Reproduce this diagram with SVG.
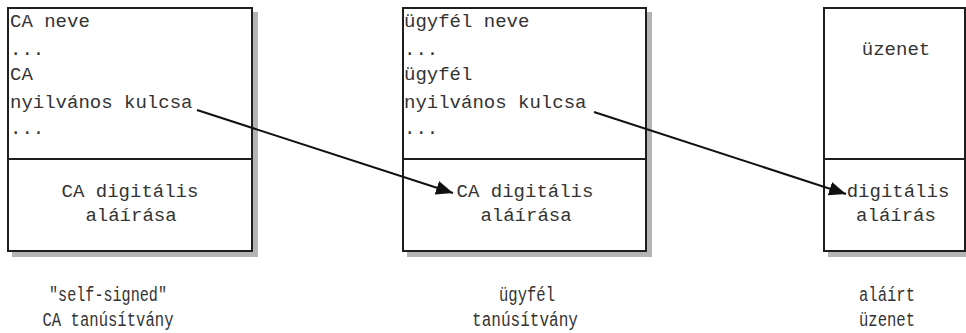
<svg xmlns="http://www.w3.org/2000/svg" width="966" height="333" viewBox="0 0 966 333">
  <style>
    .shadow { fill: #b4b4b4; stroke: none; }
    .box { fill: #ffffff; stroke: #1e1e1e; stroke-width: 2; }
    .div { stroke: #1e1e1e; stroke-width: 2; }
    .t { font-family: "Liberation Mono", "Courier New", monospace; font-size: 19px; fill: #333333; }
    .c { text-anchor: middle; }
    .cap { font-family: "Liberation Mono", "Courier New", monospace; font-size: 20px; fill: #333333; text-anchor: middle; }
    .arrow { stroke: #111111; stroke-width: 2; fill: none; marker-end: url(#head); }
  </style>
  <defs>
    <marker id="head" markerUnits="userSpaceOnUse" markerWidth="18" markerHeight="14" refX="17" refY="7" orient="auto">
      <path d="M0,0 L17,7 L0,14 Z" fill="#111111"/>
    </marker>
  </defs>

  <rect width="966" height="333" fill="#ffffff"/>

  <!-- self-signed CA certificate -->
  <g id="ca-cert">
    <rect class="shadow" x="12" y="12" width="246" height="245"/>
    <rect class="box" x="8" y="8" width="244" height="243"/>
    <line class="div" x1="8" y1="159" x2="252" y2="159"/>
    <text class="t" x="10" y="27">CA neve</text>
    <text class="t" x="10" y="55">...</text>
    <text class="t" x="10" y="80">CA</text>
    <text class="t" x="10" y="108">nyilvános kulcsa</text>
    <text class="t" x="10" y="134">...</text>
    <text class="t c" x="130" y="197">CA digitális</text>
    <text class="t c" x="131" y="221">aláírása</text>
    <text class="cap" x="108" y="301" textLength="118" lengthAdjust="spacingAndGlyphs">"self-signed"</text>
    <text class="cap" x="108" y="326" textLength="131" lengthAdjust="spacingAndGlyphs">CA tanúsítvány</text>
  </g>

  <!-- client certificate -->
  <g id="client-cert">
    <rect class="shadow" x="407" y="12" width="245" height="245"/>
    <rect class="box" x="403" y="8" width="243" height="243"/>
    <line class="div" x1="403" y1="159" x2="646" y2="159"/>
    <text class="t" x="404" y="27">ügyfél neve</text>
    <text class="t" x="404" y="55">...</text>
    <text class="t" x="404" y="80">ügyfél</text>
    <text class="t" x="404" y="108">nyilvános kulcsa</text>
    <text class="t" x="404" y="134">...</text>
    <text class="t c" x="525" y="197">CA digitális</text>
    <text class="t c" x="526" y="221">aláírása</text>
    <text class="cap" x="527" y="301" textLength="56" lengthAdjust="spacingAndGlyphs">ügyfél</text>
    <text class="cap" x="525" y="326" textLength="106" lengthAdjust="spacingAndGlyphs">tanúsítvány</text>
  </g>

  <!-- signed message -->
  <g id="signed-message">
    <rect class="shadow" x="828" y="12" width="144" height="245"/>
    <rect class="box" x="824" y="8" width="141" height="243"/>
    <line class="div" x1="824" y1="159" x2="965" y2="159"/>
    <text class="t c" x="896" y="55">üzenet</text>
    <text class="t c" x="898" y="197">digitális</text>
    <text class="t c" x="896" y="221">aláírás</text>
    <text class="cap" x="887" y="301" textLength="56" lengthAdjust="spacingAndGlyphs">aláírt</text>
    <text class="cap" x="887" y="326" textLength="56" lengthAdjust="spacingAndGlyphs">üzenet</text>
  </g>

  <!-- connectors -->
  <g id="connectors">
    <line class="arrow" x1="197" y1="110" x2="453" y2="193"/>
    <line class="arrow" x1="594" y1="112" x2="846" y2="194"/>
  </g>
</svg>
